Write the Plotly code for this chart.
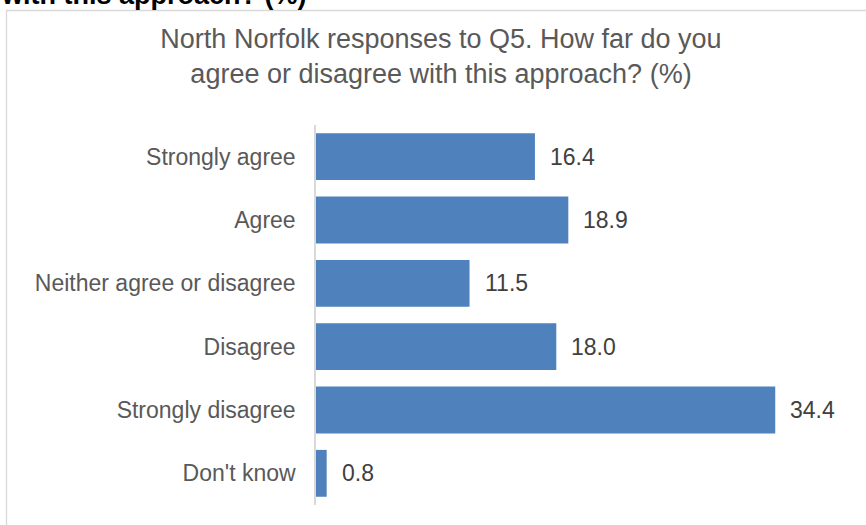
import plotly.graph_objects as go

# Survey responses (%), listed top to bottom
categories = ["Strongly agree", "Agree", "Neither agree or disagree",
              "Disagree", "Strongly disagree", "Don't know"]
percentages = [16.4, 18.9, 11.5, 18.0, 34.4, 0.8]

chart_title = ("North Norfolk responses to Q5. How far do you<br>"
               "agree or disagree with this approach? (%)")
heading_tail = "with this approach? (%)"

W, H = 866, 525
ML, MR, MT, MB = 316, 16, 125, 20
PW, PH = W - ML - MR, H - MT - MB

def px_x(px):
    return (px - ML) / PW

def px_y(py):
    return (H - MB - py) / PH

FONT = "Liberation Sans, Arial, sans-serif"
GREY = "#595959"

fig = go.Figure(go.Bar(
    y=categories,
    x=percentages,
    orientation="h",
    marker=dict(color="#4F81BD", line=dict(width=0)),
    hoverinfo="skip",
))

annotations = [
    dict(x=v, y=c, xref="x", yref="y", text=f"{v:.1f}", showarrow=False,
         xanchor="left", yanchor="middle", xshift=13,
         font=dict(family=FONT, size=23, color="#404040"))
    for c, v in zip(categories, percentages)
]
# Tail of the document heading above the chart box
annotations.append(dict(
    x=px_x(-1), y=px_y(5), xref="paper", yref="paper", text=f"<b>{heading_tail}</b>",
    showarrow=False, xanchor="left", yanchor="bottom", yshift=-7,
    font=dict(family=FONT, size=27, color="#000000"),
))

fig.update_layout(
    width=W, height=H,
    margin=dict(l=ML, r=MR, t=MT, b=MB),
    paper_bgcolor="white", plot_bgcolor="white",
    showlegend=False,
    bargap=0.26,
    title=dict(text=chart_title, x=441 / W, xanchor="center",
               y=1 - 48 / H, yref="container", yanchor="top",
               font=dict(family=FONT, size=27, color=GREY)),
    xaxis=dict(range=[0, 40], visible=False, fixedrange=True),
    yaxis=dict(autorange="reversed", showgrid=False, zeroline=False,
               showline=True, linecolor="#D9D9D9", linewidth=1.5,
               ticks="", ticklabelstandoff=14,
               tickfont=dict(family=FONT, size=23, color=GREY)),
    annotations=annotations,
    shapes=[dict(type="rect", xref="paper", yref="paper",
                 x0=px_x(6.5), x1=px_x(900), y0=px_y(600), y1=px_y(10.5),
                 line=dict(color="#D9D9D9", width=1.3), layer="below")],
)

fig.write_html("out.html")
